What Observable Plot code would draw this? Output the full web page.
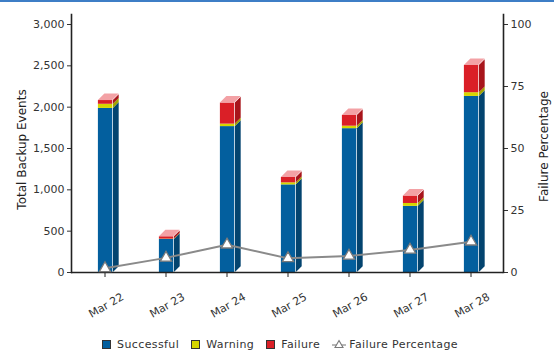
<!DOCTYPE html>
<html>
<head>
<meta charset="utf-8">
<script src="https://cdn.jsdelivr.net/npm/d3@7"></script>
<script src="https://cdn.jsdelivr.net/npm/@observablehq/plot@0.6"></script>
<style>
  body { margin: 0; background: #fff; font-family: "DejaVu Sans", sans-serif; }
  #topline { width: 554px; height: 0; border-top: 2px solid #3d7ec6; }
  #chart svg { display: block; }
  #legend { width: 554px; height: 16px; margin-top: 2px; display: flex; justify-content: center; align-items: center;
            font-size: 11px; color: #333; letter-spacing: 0.4px; padding-left: 6px; box-sizing: border-box; }
  #legend .item { display: flex; align-items: center; margin: 0 6px; }
  #legend .sw { width: 7px; height: 7px; border: 1px solid #333; margin-right: 6px; }
  #legend svg { margin-right: 3px; }
</style>
</head>
<body>
<div id="topline"></div>
<div id="chart"></div>
<div id="legend"></div>
<script>
// Daily backup event counts
const dates = ["Mar 22", "Mar 23", "Mar 24", "Mar 25", "Mar 26", "Mar 27", "Mar 28"];
const successful = [1985, 400, 1765, 1060, 1740, 800, 2130];
const warning = [50, 4, 30, 25, 30, 35, 45];
const failure = [45, 28, 255, 65, 130, 90, 330];
const failurePct = [1.7, 5.9, 11.2, 5.7, 6.7, 9.1, 12.4];

const statuses = ["Successful", "Warning", "Failure"];
const frontColor = {Successful: "#035f9e", Warning: "#d6d600", Failure: "#da1f27"};
const sideColor = {Successful: "#03446f", Warning: "#a3a300", Failure: "#a8151b"};
const topColor = "#f3a1a5";
const series = {Successful: successful, Warning: warning, Failure: failure};

// one row per date and status, stacked in status order
const rows = dates.flatMap((date, i) => statuses.map(status => ({date, status, value: series[status][i]})));
const totals = dates.map((date, i) => ({date, total: successful[i] + warning[i] + failure[i]}));
const pctRows = dates.map((date, i) => ({date, pct: failurePct[i]}));

// the right axis (0–100 %) shares the left scale: 100 % sits at 3,000 events
const pctToEvents = 30;

const band = 61.71;
const frontW = 15, depth = 6.5;
const frontL = 23.9, frontR = band - frontL - frontW;
const sideL = frontL + frontW, sideR = band - sideL - depth;

const plot = Plot.plot({
  width: 554,
  height: 332,
  marginLeft: 71,
  marginRight: 51,
  marginTop: 12,
  marginBottom: 62,
  style: {fontFamily: "DejaVu Sans, sans-serif", fontSize: "11px", color: "#333", background: "#fff"},
  x: {domain: dates, padding: 0, axis: null},
  y: {domain: [0, 3121], nice: false, axis: null},
  color: {type: "identity"},
  marks: [
    // side faces of each stacked segment
    Plot.barY(rows, Plot.stackY({x: "date", y: "value", z: "status",
      fill: d => sideColor[d.status], insetLeft: sideL, insetRight: sideR})),
    // front faces
    Plot.barY(rows, Plot.stackY({x: "date", y: "value", z: "status",
      fill: d => frontColor[d.status], insetLeft: frontL, insetRight: frontR})),
    // top faces
    Plot.barY(totals, {x: "date", y1: "total", y2: "total", fill: topColor,
      insetLeft: frontL, insetRight: frontR, insetTop: -depth}),
    // axes
    Plot.axisY({ticks: [0, 500, 1000, 1500, 2000, 2500, 3000], tickSize: 4, tickPadding: 3,
      tickFormat: d3.format(","), label: null, color: "#333"}),
    Plot.axisY({anchor: "right", ticks: [0, 25, 50, 75, 100].map(v => v * pctToEvents),
      tickSize: 4, tickPadding: 3, tickFormat: d => d / pctToEvents, label: null, color: "#333"}),
    Plot.axisX({tickSize: 5, tickFormat: () => "", label: null, stroke: "#222"}),
    Plot.frame({anchor: "left", stroke: "#222", strokeWidth: 1.6}),
    Plot.frame({anchor: "right", stroke: "#222", strokeWidth: 1.6}),
    Plot.ruleY([0], {stroke: "#222", strokeWidth: 1.6}),
    Plot.text(dates, {x: d => d, frameAnchor: "bottom", dx: 3, dy: 36, rotate: -30,
      fontSize: 11, fill: "#333"}),
    Plot.text(["Total Backup Events"], {frameAnchor: "left", textAnchor: "middle", dx: -49, dy: 6,
      rotate: -90, fontSize: 12, fill: "#222"}),
    Plot.text(["Failure Percentage"], {frameAnchor: "right", textAnchor: "middle", dx: 41, dy: 3,
      rotate: -90, fontSize: 12, fill: "#222"}),
    // failure percentage line
    Plot.line(pctRows, {x: "date", y: d => d.pct * pctToEvents, stroke: "#8a8a8a", strokeWidth: 2}),
    Plot.dot(pctRows, {x: "date", y: d => d.pct * pctToEvents, symbol: "triangle", r: 4.2,
      fill: "#fff", stroke: "#7a7a7a", strokeWidth: 1.3})
  ]
});

// give the side and top faces their oblique 3‑D shape
const barGroups = plot.querySelectorAll(':scope > g[aria-label="bar"]');
barGroups[0].querySelectorAll("rect").forEach(r => {
  const x = +r.getAttribute("x");
  r.setAttribute("transform", `translate(${x},0) skewY(-45) translate(${-x},0)`);
});
barGroups[2].querySelectorAll("rect").forEach(r => {
  const yb = +r.getAttribute("y") + +r.getAttribute("height");
  r.setAttribute("transform", `translate(0,${yb}) skewX(-45) translate(0,${-yb})`);
});

document.getElementById("chart").append(plot);

// legend
const legend = d3.select("#legend");
statuses.forEach(s => {
  const it = legend.append("div").attr("class", "item");
  it.append("div").attr("class", "sw").style("background", frontColor[s]);
  it.append("span").text(s);
});
const li = legend.append("div").attr("class", "item");
const ls = li.append("svg").attr("width", 14).attr("height", 12);
ls.append("line").attr("x1", 0).attr("x2", 14).attr("y1", 7).attr("y2", 7).attr("stroke", "#8a8a8a").attr("stroke-width", 1.2);
ls.append("path").attr("d", "M7,2.5L11,9.5L3,9.5Z").attr("fill", "#fff").attr("stroke", "#7a7a7a").attr("stroke-width", 1.1);
li.append("span").text("Failure Percentage");
</script>
</body>
</html>
